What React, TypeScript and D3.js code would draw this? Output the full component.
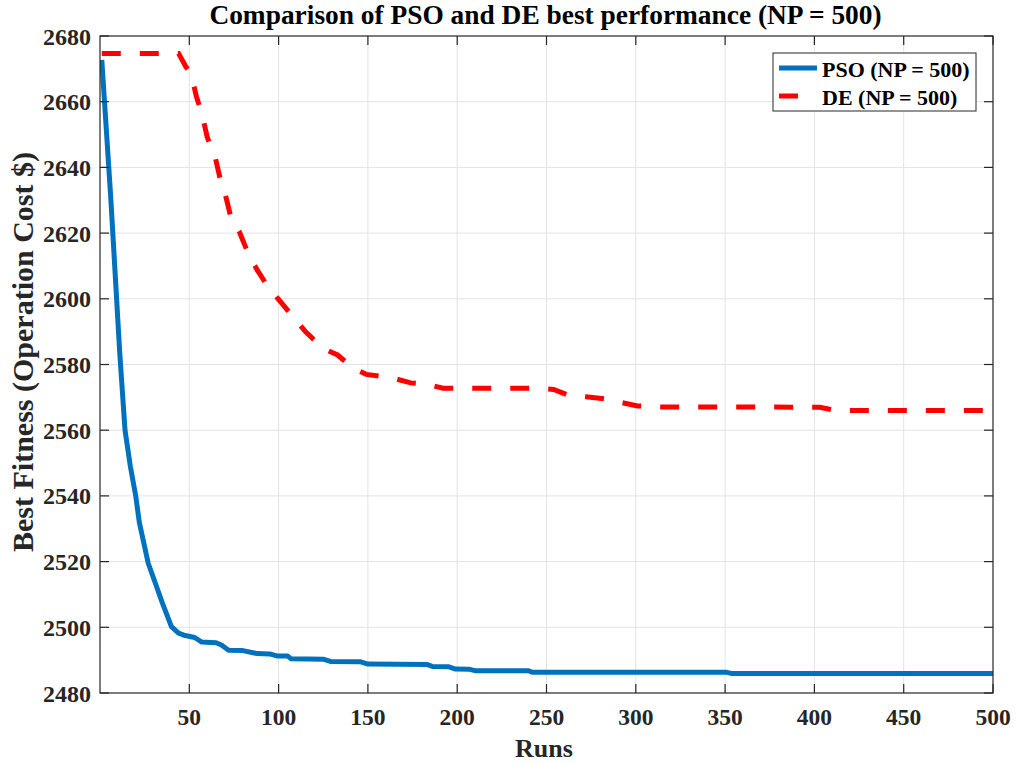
import React from "react";
import * as d3 from "d3";

const psoRuns = [1, 6, 11, 14, 17, 20, 22, 27, 31, 35, 40, 44, 47, 53, 57, 65, 68, 72, 80, 88, 95, 99, 105, 107, 125, 129, 146, 150, 183, 186, 195, 199, 207, 210, 240, 242, 351, 354, 500];
const psoValues = [2672.7, 2631, 2584, 2560, 2549, 2540, 2532, 2519.5, 2513.4, 2507.3, 2500.2, 2498.2, 2497.6, 2496.9, 2495.5, 2495.3, 2494.6, 2493, 2492.9, 2492, 2491.9, 2491.3, 2491.3, 2490.4, 2490.3, 2489.6, 2489.5, 2488.8, 2488.7, 2488.1, 2488, 2487.3, 2487.2, 2486.8, 2486.8, 2486.3, 2486.3, 2485.9, 2485.9];

const deRuns = [1, 44, 48, 51, 54, 57, 60, 62, 64, 67, 70, 73, 76, 78, 83, 86, 88, 94, 100, 108, 115, 125, 133, 142, 149, 163, 174, 183, 192, 243, 254, 262, 272, 283, 292, 301, 312, 403, 412, 500];
const deValues = [2674.7, 2674.7, 2670.7, 2668.6, 2661.5, 2656.5, 2649.3, 2646.3, 2644.3, 2637.2, 2632.1, 2625.5, 2622, 2620.4, 2613.8, 2610.8, 2608.8, 2603.7, 2599.8, 2594.6, 2590, 2584.9, 2582.9, 2578.8, 2577, 2576, 2574.4, 2574, 2572.8, 2572.8, 2572.4, 2570.7, 2570.2, 2569.5, 2568.4, 2567.4, 2567.1, 2567, 2566, 2566];

const xTicks = [50, 100, 150, 200, 250, 300, 350, 400, 450, 500];
const yTicks = [2480, 2500, 2520, 2540, 2560, 2580, 2600, 2620, 2640, 2660, 2680];

const titleText = "Comparison of PSO and DE best performance (NP = 500)";
const xLabel = "Runs";
const yLabel = "Best Fitness (Operation Cost $)";
const legendLabels = ["PSO (NP = 500)", "DE (NP = 500)"];

const W = 1016, H = 765;
const L = 100, R = 993, T = 36, B = 693;
const FONT = "'Liberation Serif', 'Times New Roman', serif";
const AX = "#262626";
const BLUE = "#0072BD";
const RED = "#FF0000";

export default function App() {
  const x = d3.scaleLinear().domain([0, 500]).range([L, R]);
  const y = d3.scaleLinear().domain([2480, 2680]).range([B, T]);

  const pso = psoRuns.map((r, i) => [r, psoValues[i]] as [number, number]);
  const de = deRuns.map((r, i) => [r, deValues[i]] as [number, number]);
  const line = d3.line<[number, number]>().x(d => x(d[0])).y(d => y(d[1]));

  const tickLen = 9;

  return (
    <svg width={W} height={H} style={{ position: "absolute", left: 0, top: 0, background: "#fff" }} fontFamily={FONT} fontWeight="bold">
      <rect x={0} y={0} width={W} height={H} fill="#fff" />
      {xTicks.filter(t => t < 500).map(t => (
        <line key={"gx" + t} x1={x(t)} x2={x(t)} y1={T} y2={B} stroke="#e3e3e3" strokeWidth={1} />
      ))}
      {yTicks.filter(t => t > 2480 && t < 2680).map(t => (
        <line key={"gy" + t} x1={L} x2={R} y1={y(t)} y2={y(t)} stroke="#e3e3e3" strokeWidth={1} />
      ))}
      <defs>
        <clipPath id="plotclip">
          <rect x={L} y={T} width={R - L} height={B - T} />
        </clipPath>
      </defs>
      <g clipPath="url(#plotclip)">
        <path d={line(de) || ""} fill="none" stroke={RED} strokeWidth={5} strokeDasharray="19 19" />
        <path d={line(pso) || ""} fill="none" stroke={BLUE} strokeWidth={5} strokeLinejoin="round" />
      </g>
      <rect x={L} y={T} width={R - L} height={B - T} fill="none" stroke={AX} strokeWidth={1.2} />
      {xTicks.map(t => (
        <g key={"xt" + t}>
          <line x1={x(t)} x2={x(t)} y1={B} y2={B - tickLen} stroke={AX} strokeWidth={1.2} />
          <line x1={x(t)} x2={x(t)} y1={T} y2={T + tickLen} stroke={AX} strokeWidth={1.2} />
          <text x={x(t)} y={725} textAnchor="middle" fontSize={23.5} fill={AX}>{t}</text>
        </g>
      ))}
      {yTicks.map(t => (
        <g key={"yt" + t}>
          <line x1={L} x2={L + tickLen} y1={y(t)} y2={y(t)} stroke={AX} strokeWidth={1.2} />
          <line x1={R} x2={R - tickLen} y1={y(t)} y2={y(t)} stroke={AX} strokeWidth={1.2} />
          <text x={91} y={y(t) + 8.5} textAnchor="end" fontSize={24} fill={AX}>{t}</text>
        </g>
      ))}
      <text x={(L + R) / 2 - 1} y={24} textAnchor="middle" fontSize={27.4} fill="#000">{titleText}</text>
      <text x={544} y={757} textAnchor="middle" fontSize={26} fill={AX}>{xLabel}</text>
      <text transform={`translate(33, 352) rotate(-90)`} textAnchor="middle" fontSize={30} fill={AX}>{yLabel}</text>
      <rect x={773} y={53} width={203} height={58} fill="#fff" stroke={AX} strokeWidth={1} />
      <line x1={779} x2={817} y1={68} y2={68} stroke={BLUE} strokeWidth={5} />
      <line x1={779} x2={817} y1={96} y2={96} stroke={RED} strokeWidth={5} strokeDasharray="19 19" />
      <text x={822} y={77} fontSize={22} fill="#000">{legendLabels[0]}</text>
      <text x={822} y={105} fontSize={22} fill="#000">{legendLabels[1]}</text>
    </svg>
  );
}
